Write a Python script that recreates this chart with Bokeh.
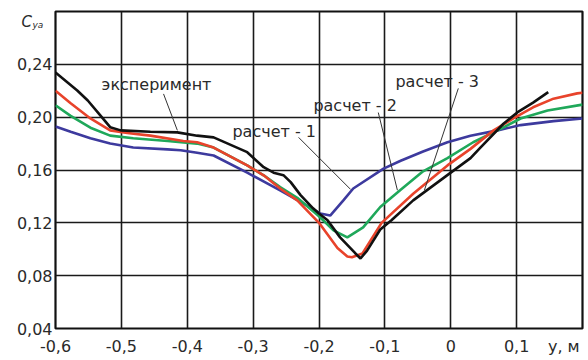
from bokeh.plotting import figure
from bokeh.models import FixedTicker, Label
from bokeh.embed import file_html
from bokeh.resources import INLINE

# ---- axes ----
x_ticks = [-0.6, -0.5, -0.4, -0.3, -0.2, -0.1, 0.0, 0.1]
x_tick_labels = ["-0,6", "-0,5", "-0,4", "-0,3", "-0,2", "-0,1", "0", "0,1"]
x_title_pos = 0.1716
x_title = "y, м"
y_ticks = [0.04, 0.08, 0.12, 0.16, 0.20, 0.24]
y_tick_labels = ["0,04", "0,08", "0,12", "0,16", "0,20", "0,24"]
y_title_main = "C"
y_title_sub = "ya"

# ---- series (y, m -> C_ya) ----
exp_x = [-0.600, -0.567, -0.551, -0.532, -0.517, -0.501, -0.456, -0.415, -0.385, -0.360,
         -0.309, -0.284, -0.269, -0.254, -0.243, -0.228, -0.209, -0.200, -0.187, -0.168,
         -0.145, -0.137, -0.127, -0.107, -0.090, -0.057, 0.000, 0.030, 0.045, 0.080,
         0.101, 0.125, 0.148]
exp_y = [0.2338, 0.2202, 0.2126, 0.2014, 0.1924, 0.1900, 0.1890, 0.1885, 0.1860, 0.1847,
         0.1735, 0.1621, 0.1580, 0.1561, 0.1508, 0.1410, 0.1310, 0.1270, 0.1220, 0.1090,
         0.0970, 0.0930, 0.0990, 0.1150, 0.1220, 0.1370, 0.1580, 0.1690, 0.1770, 0.1950,
         0.2036, 0.2110, 0.2190]

r3_x = [-0.600, -0.577, -0.547, -0.517, -0.491, -0.456, -0.406, -0.385, -0.360, -0.309,
        -0.284, -0.259, -0.233, -0.200, -0.172, -0.157, -0.150, -0.134, -0.105, -0.057,
        -0.005, 0.030, 0.065, 0.095, 0.125, 0.156, 0.192, 0.200]
r3_y = [0.220, 0.2105, 0.199, 0.190, 0.188, 0.186, 0.182, 0.181, 0.177, 0.1635,
        0.156, 0.146, 0.137, 0.120, 0.101, 0.0945, 0.094, 0.0968, 0.120, 0.142,
        0.1635, 0.176, 0.190, 0.199, 0.2075, 0.214, 0.218, 0.2185]

r2_x = [-0.600, -0.577, -0.547, -0.517, -0.482, -0.430, -0.385, -0.360, -0.309, -0.284,
        -0.259, -0.233, -0.200, -0.178, -0.157, -0.133, -0.107, -0.076, -0.042, -0.005,
        0.034, 0.071, 0.106, 0.147, 0.200]
r2_y = [0.209, 0.201, 0.192, 0.186, 0.184, 0.182, 0.180, 0.177, 0.1635, 0.156,
        0.147, 0.139, 0.125, 0.1143, 0.109, 0.1165, 0.132, 0.145, 0.159, 0.169,
        0.181, 0.190, 0.199, 0.205, 0.2095]

r1_x = [-0.600, -0.577, -0.547, -0.517, -0.482, -0.430, -0.410, -0.385, -0.360, -0.309,
        -0.259, -0.218, -0.198, -0.183, -0.163, -0.148, -0.102, -0.076, -0.042, -0.005,
        0.030, 0.071, 0.106, 0.156, 0.200]
r1_y = [0.193, 0.189, 0.184, 0.180, 0.177, 0.1756, 0.175, 0.173, 0.171, 0.158,
        0.1445, 0.133, 0.127, 0.1255, 0.137, 0.146, 0.161, 0.167, 0.174, 0.181,
        0.186, 0.190, 0.194, 0.197, 0.199]

# ---- annotations ----
ann_texts = ["эксперимент", "расчет - 1", "расчет - 2", "расчет - 3"]
ann_x = [-0.530, -0.3314, -0.2085, -0.084]
ann_y = [0.2248, 0.1892, 0.2089, 0.2271]
lead_x0 = [-0.436, -0.231, -0.110, 0.0115]
lead_y0 = [0.2176, 0.1847, 0.2035, 0.2218]
lead_x1 = [-0.415, -0.152, -0.081, -0.040]
lead_y1 = [0.190, 0.1453, 0.1447, 0.1447]

FONT = "DejaVu Sans"
TXT = "#2a2a2a"

p = figure(width=588, height=360, x_range=(-0.6, 0.2), y_range=(0.04, 0.28),
           output_backend="svg", toolbar_location=None,
           min_border_left=55, min_border_right=6, min_border_top=11, min_border_bottom=32)
p.background_fill_color = "white"
p.border_fill_color = "white"
p.outline_line_color = "#111111"
p.outline_line_width = 2.2

p.xaxis.ticker = FixedTicker(ticks=x_ticks + [x_title_pos])
p.yaxis.ticker = FixedTicker(ticks=y_ticks)
xo = {t: l for t, l in zip(x_ticks, x_tick_labels)}
xo[x_title_pos] = x_title
p.xaxis.major_label_overrides = xo
p.yaxis.major_label_overrides = {t: l for t, l in zip(y_ticks, y_tick_labels)}
for ax in (p.xaxis, p.yaxis):
    ax.axis_line_color = None
    ax.major_tick_line_color = None
    ax.minor_tick_line_color = None
    ax.major_tick_out = 0
    ax.major_tick_in = 0
    ax.minor_tick_out = 0
    ax.minor_tick_in = 0
    ax.major_label_text_font = FONT
    ax.major_label_text_font_size = "16px"
    ax.major_label_text_color = TXT
p.xaxis.major_label_standoff = 8
p.yaxis.major_label_standoff = 3

p.xgrid.ticker = FixedTicker(ticks=x_ticks)
p.ygrid.ticker = FixedTicker(ticks=y_ticks)
for g in (p.xgrid, p.ygrid):
    g.grid_line_color = "#1a1a1a"
    g.grid_line_width = 1.6

p.line(r1_x, r1_y, line_color="#3d3a9e", line_width=2.6)
p.line(r2_x, r2_y, line_color="#1fa85a", line_width=2.6)
p.line(r3_x, r3_y, line_color="#e8432b", line_width=2.6)
p.line(exp_x, exp_y, line_color="#111111", line_width=2.6)

p.segment(lead_x0, lead_y0, lead_x1, lead_y1, line_color="#333333", line_width=1)

for t, x, y in zip(ann_texts, ann_x, ann_y):
    p.add_layout(Label(x=x, y=y, text=t, text_font=FONT, text_font_size="16px",
                       text_color=TXT, text_baseline="middle", text_align="left"))

# y-axis title C_ya, placed in the side panels so it is not clipped
p.add_layout(Label(x=18, y=307, x_units="screen", y_units="screen", text=y_title_main,
                   text_font=FONT, text_font_size="15px", text_font_style="italic",
                   text_color=TXT, text_baseline="alphabetic"), "left")
p.add_layout(Label(x=-23, y=-13, x_units="screen", y_units="screen", text=y_title_sub,
                   text_font=FONT, text_font_size="9px", text_font_style="italic",
                   text_color=TXT, text_baseline="alphabetic"), "above")

open("out.html", "w").write(file_html(p, INLINE))
